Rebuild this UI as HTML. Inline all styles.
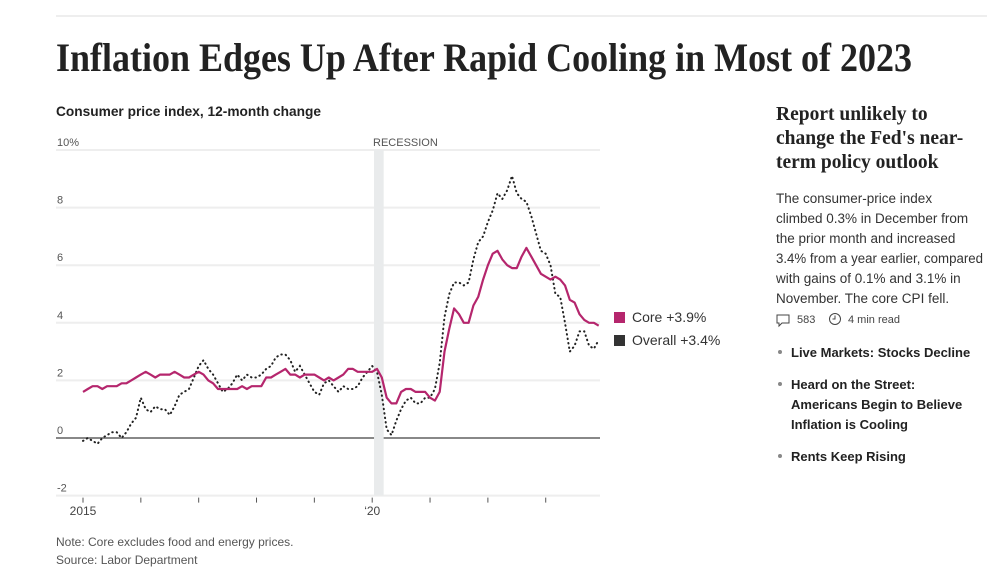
<!DOCTYPE html>
<html><head><meta charset="utf-8"><style>
body{margin:0;background:#fff;width:987px;height:576px;overflow:hidden}
svg text{font-family:"Liberation Sans",sans-serif}
</style></head><body>
<svg id="c" width="987" height="576">
<line x1="56" y1="16" x2="987" y2="16" stroke="#ddd"/>
<text x="56" y="71" font-weight="bold" font-size="40" textLength="856" lengthAdjust="spacingAndGlyphs" fill="#222" style="font-family:'Liberation Serif',serif">Inflation Edges Up After Rapid Cooling in Most of 2023</text>
<text x="56" y="116" font-weight="bold" font-size="14" fill="#222" textLength="265" lengthAdjust="spacingAndGlyphs">Consumer price index, 12-month change</text>
<g id="grid"></g>
<rect id="rec" fill="#e9ebec"/>
<text id="recl" font-size="11" fill="#555">RECESSION</text>
<g id="plot"></g>
<rect x="614" y="312" width="11" height="11" fill="#b5266d"/>
<text x="632" y="322" font-size="14" fill="#333">Core +3.9%</text>
<rect x="614" y="335" width="11" height="11" fill="#333"/>
<text x="632" y="345" font-size="14" fill="#333">Overall +3.4%</text>
<g font-weight="bold" font-size="19.5" fill="#222">
<text x="776" y="120" style="font-family:'Liberation Serif',serif">Report unlikely to</text>
<text x="776" y="144" style="font-family:'Liberation Serif',serif">change the Fed's near-</text>
<text x="776" y="168" style="font-family:'Liberation Serif',serif">term policy outlook</text>
</g>
<g font-size="13.5" fill="#333">
<text x="776" y="203">The consumer-price index</text>
<text x="776" y="223">climbed 0.3% in December from</text>
<text x="776" y="243">the prior month and increased</text>
<text x="776" y="263" textLength="207" lengthAdjust="spacingAndGlyphs">3.4% from a year earlier, compared</text>
<text x="776" y="283">with gains of 0.1% and 3.1% in</text>
<text x="776" y="303">November. The core CPI fell.</text>
</g>
<path d="M777 315h12v8h-7l-3 3v-3h-2z" fill="none" stroke="#444"/>
<text x="797" y="323" font-size="11" fill="#444">583</text>
<circle cx="835" cy="319" r="5.5" fill="none" stroke="#444"/>
<path d="M835 315.5v3.5h-2.5" fill="none" stroke="#444"/>
<text x="848" y="323" font-size="11" fill="#444">4 min read</text>
<g font-size="13" font-weight="bold" fill="#222">
<circle cx="780" cy="352" r="2" fill="#888"/>
<text x="791" y="357">Live Markets: Stocks Decline</text>
<circle cx="780" cy="384" r="2" fill="#888"/>
<text x="791" y="389">Heard on the Street:</text>
<text x="791" y="409">Americans Begin to Believe</text>
<text x="791" y="429">Inflation is Cooling</text>
<circle cx="780" cy="456" r="2" fill="#888"/>
<text x="791" y="461">Rents Keep Rising</text>
</g>
<text x="56" y="546" font-size="12" fill="#555">Note: Core excludes food and energy prices.</text>
<text x="56" y="564" font-size="12" fill="#555">Source: Labor Department</text>
</svg>
<script>
const yTicks=[10,8,6,4,2,0,-2];
const xTickYears=[2015,2016,2017,2018,2019,2020,2021,2022,2023];
const xTickLabels={2015:"2015",2020:"\u201820"};
const core=[1.6,1.7,1.8,1.8,1.7,1.8,1.8,1.8,1.9,1.9,2.0,2.1,
2.2,2.3,2.2,2.1,2.2,2.2,2.2,2.3,2.2,2.1,2.1,2.2,
2.3,2.2,2.0,1.9,1.7,1.7,1.7,1.7,1.7,1.8,1.7,1.8,
1.8,1.8,2.1,2.1,2.2,2.3,2.4,2.2,2.2,2.1,2.2,2.2,
2.2,2.1,2.0,2.1,2.0,2.1,2.2,2.4,2.4,2.3,2.3,2.3,
2.3,2.4,2.1,1.4,1.2,1.2,1.6,1.7,1.7,1.6,1.6,1.6,
1.4,1.3,1.6,3.0,3.8,4.5,4.3,4.0,4.0,4.6,4.9,5.5,
6.0,6.4,6.5,6.2,6.0,5.9,5.9,6.3,6.6,6.3,6.0,5.7,
5.6,5.5,5.6,5.5,5.3,4.8,4.7,4.3,4.1,4.0,4.0,3.9];
const overall=[-0.1,0.0,-0.1,-0.2,0.0,0.1,0.2,0.2,0.0,0.2,0.5,0.7,
1.4,1.0,0.9,1.1,1.0,1.0,0.8,1.1,1.5,1.6,1.7,2.1,
2.5,2.7,2.4,2.2,1.9,1.6,1.7,1.9,2.2,2.0,2.2,2.1,
2.1,2.2,2.4,2.5,2.8,2.9,2.9,2.7,2.3,2.5,2.2,1.9,
1.6,1.5,1.9,2.0,1.8,1.6,1.8,1.7,1.7,1.8,2.1,2.3,
2.5,2.3,1.5,0.3,0.1,0.6,1.0,1.3,1.4,1.2,1.2,1.4,
1.4,1.7,2.6,4.2,5.0,5.4,5.4,5.3,5.4,6.2,6.8,7.0,
7.5,7.9,8.5,8.3,8.6,9.1,8.5,8.3,8.2,7.7,7.1,6.5,
6.4,6.0,5.0,4.9,4.0,3.0,3.2,3.7,3.7,3.2,3.1,3.4];
const recession=[61,63];
const X=m=>83+m*4.82, Y=v=>438-28.8*v;
const ns="http://www.w3.org/2000/svg";
function mk(t,a,p){const e=document.createElementNS(ns,t);for(const k in a)e.setAttribute(k,a[k]);p.appendChild(e);return e;}
const g=document.getElementById('grid');
yTicks.forEach(v=>{
 const l=mk('line',{x1:56,x2:600,y1:Y(v),y2:Y(v),stroke:v===0?'#888':'#eee','stroke-width':2},g);
 
 
 const t=mk('text',{x:57,y:Y(v)-4,'font-size':11,fill:'#555'},g);
 t.textContent=v===10?'10%':String(v);
 
 
});
xTickYears.forEach(yr=>{
 const x=X((yr-2015)*12);
 const l=mk('line',{x1:x,x2:x,y1:Y(-2)+2,y2:Y(-2)+7,stroke:'#555'},g);
 
 
 if(xTickLabels[yr]){const t=mk('text',{x:x,y:515,'font-size':12,fill:'#444','text-anchor':'middle'},g);t.textContent=xTickLabels[yr];
 
 }
});
const r=document.getElementById('rec');
r.setAttribute('x',X(recession[0])-3);r.setAttribute('width',X(recession[1])-X(recession[0]));
r.setAttribute('y',Y(10));r.setAttribute('height',Y(-2)-Y(10));
const rl=document.getElementById('recl');rl.setAttribute('x',X(recession[0])-4);rl.setAttribute('y',146);
const p=document.getElementById('plot');
const pts=a=>a.map((v,i)=>X(i).toFixed(1)+','+Y(v).toFixed(1)).join(' ');
const lo=mk('polyline',{points:pts(overall),fill:'none',stroke:'#222','stroke-width':2,'stroke-dasharray':'0.5 4','stroke-linecap':'round'},p);


const lc=mk('polyline',{points:pts(core),fill:'none',stroke:'#b5266d','stroke-width':2.2,'stroke-linejoin':'round'},p);


</script>
</body></html>
